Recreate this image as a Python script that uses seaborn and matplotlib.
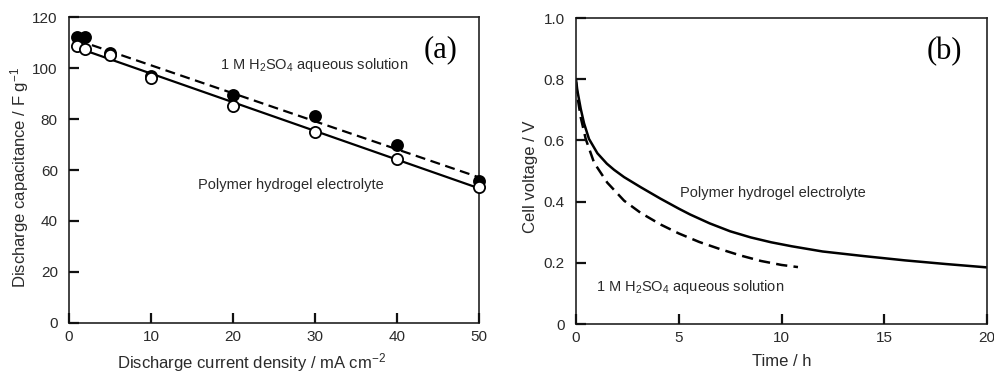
import numpy as np
import pandas as pd
import matplotlib
matplotlib.use("Agg")
import matplotlib.pyplot as plt
import seaborn as sns

# (a) discharge capacitance vs current density
current_density = [1, 2, 5, 10, 20, 30, 40, 50]
cap_h2so4 = [112, 112, 106, 97, 89.5, 81, 70, 55.5]
cap_hydrogel = [108.5, 107.5, 105, 96, 85, 75, 64.5, 53.5]

# (b) self-discharge curves
time_hydrogel = [0, 0.06, 0.23, 0.39, 0.63, 1.04, 1.5, 1.85, 2.34, 3.15, 4.1,
                 5.0, 5.55, 6.5, 7.5, 8.5, 9.5, 10.5, 12.0, 14.0, 16.0, 18.0, 20.0]
volt_hydrogel = [0.80, 0.765, 0.703, 0.656, 0.605, 0.558, 0.524, 0.504, 0.48, 0.447,
                 0.41, 0.377, 0.358, 0.329, 0.303, 0.283, 0.267, 0.254, 0.237,
                 0.222, 0.208, 0.196, 0.185]
time_h2so4 = [0, 0.1, 0.23, 0.47, 0.88, 1.52, 2.34, 3.15, 4.12, 5.0, 6.0, 7.0,
              8.0, 9.0, 10.0, 10.8]
volt_h2so4 = [0.79, 0.73, 0.675, 0.605, 0.527, 0.462, 0.403, 0.363, 0.325, 0.296,
              0.268, 0.245, 0.224, 0.206, 0.193, 0.186]

sns.set_theme(style="white")
plt.rcParams["font.family"] = ["Liberation Sans", "DejaVu Sans"]
plt.rcParams["mathtext.fontset"] = "custom"
plt.rcParams["mathtext.rm"] = "Liberation Sans"
plt.rcParams["mathtext.it"] = "Liberation Sans:italic"
plt.rcParams["mathtext.bf"] = "Liberation Sans:bold"

TXT = "#2a2a2a"
fig = plt.figure(figsize=(9.94, 3.72), dpi=100)
ax1 = fig.add_axes([0.0694, 0.132, 0.4125, 0.822])
ax2 = fig.add_axes([0.5795, 0.129, 0.4135, 0.8226])

df_a = pd.DataFrame({"j": current_density, "h2so4": cap_h2so4, "gel": cap_hydrogel})

# least-squares lines through each data set
sns.regplot(data=df_a, x="j", y="h2so4", ax=ax1, ci=None, scatter=False, truncate=True,
            line_kws=dict(color="black", lw=1.6, ls=(0, (4.5, 2.5))))
sns.regplot(data=df_a, x="j", y="gel", ax=ax1, ci=None, scatter=False, truncate=True,
            line_kws=dict(color="black", lw=1.6))
sns.scatterplot(data=df_a, x="j", y="h2so4", ax=ax1, s=65, color="black",
                edgecolor="black", linewidth=1.2, zorder=3, clip_on=False)
sns.scatterplot(data=df_a, x="j", y="gel", ax=ax1, s=65, color="white",
                edgecolor="black", linewidth=1.3, zorder=4, clip_on=False)

ax1.set_xlim(0, 50)
ax1.set_ylim(0, 120)
ax1.set_xticks([0, 10, 20, 30, 40, 50])
ax1.set_yticks([0, 20, 40, 60, 80, 100, 120])
ax1.set_xlabel("Discharge current density / mA cm$^{-2}$", fontsize=12, color=TXT)
ax1.set_ylabel("Discharge capacitance / F g$^{-1}$", fontsize=12, color=TXT)
ax1.xaxis.set_label_coords(0.446, -0.092)
ax1.yaxis.set_label_coords(-0.092, 0.474)
ax1.text(18.4, 101.2, "1 M H$_2$SO$_4$ aqueous solution", fontsize=10.5, color=TXT,
         ha="left", va="center")
ax1.text(15.7, 54.1, "Polymer hydrogel electrolyte", fontsize=10.5, color=TXT,
         ha="left", va="center")
ax1.text(0.907, 0.892, "(a)", transform=ax1.transAxes, fontsize=22,
         family="Liberation Serif", ha="center", va="center", color="black")

df_gel = pd.DataFrame({"t": time_hydrogel, "v": volt_hydrogel})
df_acid = pd.DataFrame({"t": time_h2so4, "v": volt_h2so4})
sns.lineplot(data=df_gel, x="t", y="v", ax=ax2, color="black", lw=1.8)
sns.lineplot(data=df_acid, x="t", y="v", ax=ax2, color="black", lw=1.8,
             dashes=False, ls=(0, (4.5, 2.5)))

ax2.set_xlim(0, 20)
ax2.set_ylim(0, 1.0)
ax2.set_xticks([0, 5, 10, 15, 20])
ax2.set_yticks([0, 0.2, 0.4, 0.6, 0.8, 1.0])
ax2.set_yticklabels(["0", "0.2", "0.4", "0.6", "0.8", "1.0"])
ax2.set_xlabel("Time / h", fontsize=12, color=TXT)
ax2.set_ylabel("Cell voltage / V", fontsize=12, color=TXT)
ax2.xaxis.set_label_coords(0.5, -0.098)
ax2.yaxis.set_label_coords(-0.092, 0.48)
ax2.text(5.06, 0.428, "Polymer hydrogel electrolyte", fontsize=10.5, color=TXT,
         ha="left", va="center")
ax2.text(0.97, 0.121, "1 M H$_2$SO$_4$ aqueous solution", fontsize=10.5, color=TXT,
         ha="left", va="center")
ax2.text(0.895, 0.889, "(b)", transform=ax2.transAxes, fontsize=22,
         family="Liberation Serif", ha="center", va="center", color="black")

for ax in (ax1, ax2):
    ax.set_axisbelow(False)
    for sp in ax.spines.values():
        sp.set_linewidth(1.2)
        sp.set_color("#222222")
    ax.tick_params(axis="x", which="major", direction="in", length=7.5, width=1.6,
                   color="#111111", bottom=True, top=False,
                   labelsize=11, labelcolor=TXT, pad=5, zorder=10)
    ax.tick_params(axis="y", which="major", direction="in", length=7.5, width=1.6,
                   color="#111111", left=True, right=False,
                   labelsize=11, labelcolor=TXT, pad=8, zorder=10)

fig.savefig("out.png", dpi=100)
